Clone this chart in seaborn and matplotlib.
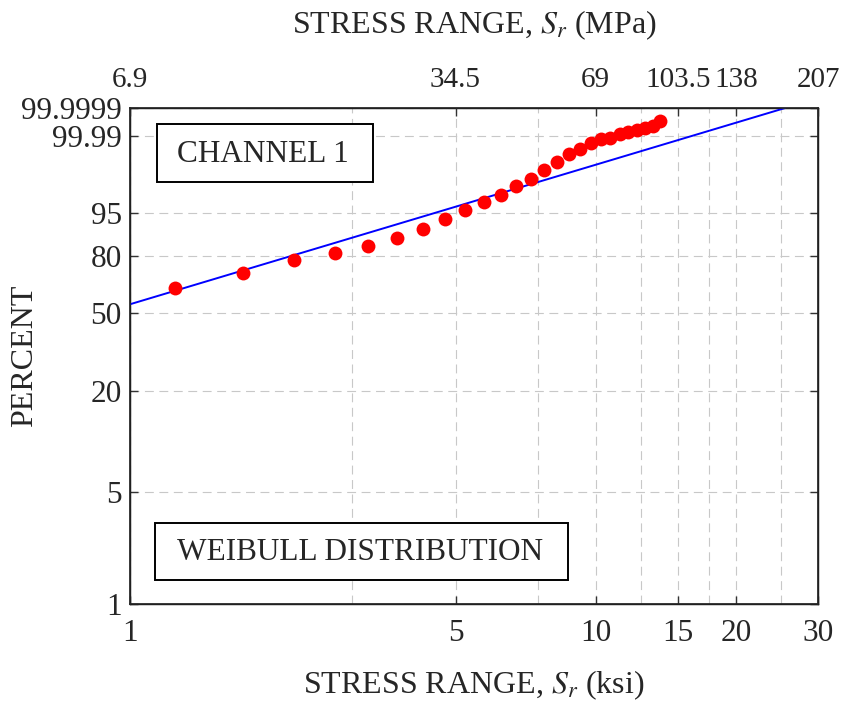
import numpy as np
import pandas as pd
import matplotlib
matplotlib.use("Agg")
import matplotlib.pyplot as plt
import seaborn as sns
from matplotlib.patches import Rectangle
from matplotlib.ticker import NullLocator, FixedLocator, NullFormatter

# ==========================================
# data
# ==========================================
stress_ksi = [1.25, 1.75, 2.25, 2.75, 3.25, 3.75, 4.25, 4.75, 5.25, 5.75, 6.25, 6.75, 7.25,
              7.75, 8.25, 8.75, 9.25, 9.75, 10.25, 10.75, 11.25, 11.75, 12.25, 12.75, 13.25, 13.75]
percent = [63.4, 71.3, 77.9, 81.2, 84.3, 87.5, 90.7, 93.6, 95.6, 97.0, 97.96, 98.82, 99.26,
           99.63, 99.815, 99.915, 99.950, 99.975, 99.985, 99.987, 99.9922, 99.9941, 99.9956,
           99.9967, 99.9976, 99.9989]

fit_ksi = [1.0, 25.5]
fit_percent = [54.7, 99.9999]

ksi_ticks = [1, 5, 10, 15, 20, 30]
ksi_labels = ["1", "5", "10", "15", "20", "30"]
mpa_labels = ["6.9", "34.5", "69", "103.5", "138", "207"]
extra_grid = [3, 7.5, 12.5, 17.5, 25]
pct_ticks = [1, 5, 20, 50, 80, 95, 99.99, 99.9999]
pct_labels = ["1", "5", "20", "50", "80", "95", "99.99", "99.9999"]

df = pd.DataFrame({"ksi": stress_ksi, "pct": percent})
fit = pd.DataFrame({"ksi": fit_ksi, "pct": fit_percent})

# ==========================================
# style
# ==========================================
sns.set_theme(style="white")
plt.rcParams["font.family"] = ["Liberation Serif", "DejaVu Serif"]
plt.rcParams["mathtext.fontset"] = "stix"


# weibull probability scale
def weib_fwd(p):
    p = np.clip(np.asarray(p, dtype=float) / 100.0, 1e-12, 1 - 1e-12)
    return np.log(-np.log(1 - p))


def weib_inv(y):
    return 100.0 * (1 - np.exp(-np.exp(np.asarray(y, dtype=float))))


fig = plt.figure(figsize=(8.55, 7.02), dpi=100)
ax = fig.add_axes([130 / 855, 1 - 604 / 702, 688 / 855, 496 / 702])

ax.set_xscale("log")
ax.set_yscale("function", functions=(weib_fwd, weib_inv))
ax.set_xlim(1, 30)
ax.set_ylim(1, 99.9999)

sns.lineplot(data=fit, x="ksi", y="pct", ax=ax, color="blue", linewidth=1.4, sort=False,
             zorder=3)
sns.scatterplot(data=df, x="ksi", y="pct", ax=ax, color="red", s=100, linewidth=0, zorder=4)

ax.xaxis.set_major_locator(FixedLocator(ksi_ticks))
ax.set_xticklabels(ksi_labels)
ax.xaxis.set_minor_locator(FixedLocator(extra_grid))
ax.xaxis.set_minor_formatter(NullFormatter())
ax.yaxis.set_major_locator(FixedLocator(pct_ticks))
ax.set_yticklabels(pct_labels)
ax.yaxis.set_minor_locator(NullLocator())

ax.tick_params(axis="x", which="major", direction="in", length=6, width=1, pad=11,
               labelsize=22.5, bottom=True, top=False, color="#333333")
ax.tick_params(axis="x", which="minor", length=0)
ax.tick_params(axis="y", which="major", direction="in", length=6, width=1, pad=6,
               labelsize=22.5, left=True, right=True, color="#333333")
ax.grid(True, which="both", color="#c8c8c8", linestyle=(0, (8, 5)), linewidth=0.8)
ax.set_axisbelow(True)
for sp in ax.spines.values():
    sp.set_color("black")
    sp.set_linewidth(1.0)

ax.set_xlabel(r"STRESS RANGE, $S_r$ (ksi)", fontsize=23)
ax.set_ylabel("PERCENT", fontsize=23)
ax.xaxis.set_label_coords(0.5, -0.13)
ax.yaxis.set_label_coords(-0.132, 0.5)

# top axis in MPa
ax2 = ax.twiny()
ax2.set_xscale("log")
ax2.set_xlim(1, 30)
ax2.xaxis.set_major_locator(FixedLocator(ksi_ticks))
ax2.set_xticklabels(mpa_labels)
ax2.xaxis.set_minor_locator(NullLocator())
ax2.tick_params(axis="x", direction="in", length=6, width=1, pad=11, labelsize=21,
                color="#333333")
ax2.set_xlabel(r"STRESS RANGE, $S_r$ (MPa)", fontsize=23)
ax2.xaxis.set_label_coords(0.5, 1.15)
ax2.grid(False)

# annotation boxes
ax.add_patch(Rectangle(((157 - 130) / 688, (604 - 182) / 496), 216 / 688, 58 / 496,
                       transform=ax.transAxes, fill=True, facecolor="white",
                       edgecolor="black", linewidth=1.4, zorder=5))
ax.text((263 - 130) / 688, (604 - 154) / 496, "CHANNEL 1", transform=ax.transAxes,
        ha="center", va="center", fontsize=22.5, zorder=6)
ax.add_patch(Rectangle(((155 - 130) / 688, (604 - 580) / 496), 413 / 688, 57 / 496,
                       transform=ax.transAxes, fill=True, facecolor="white",
                       edgecolor="black", linewidth=1.4, zorder=5))
ax.text((360 - 130) / 688, (604 - 553) / 496, "WEIBULL DISTRIBUTION", transform=ax.transAxes,
        ha="center", va="center", fontsize=22.5, zorder=6)

fig.savefig("out.png", dpi=100, facecolor="white")
